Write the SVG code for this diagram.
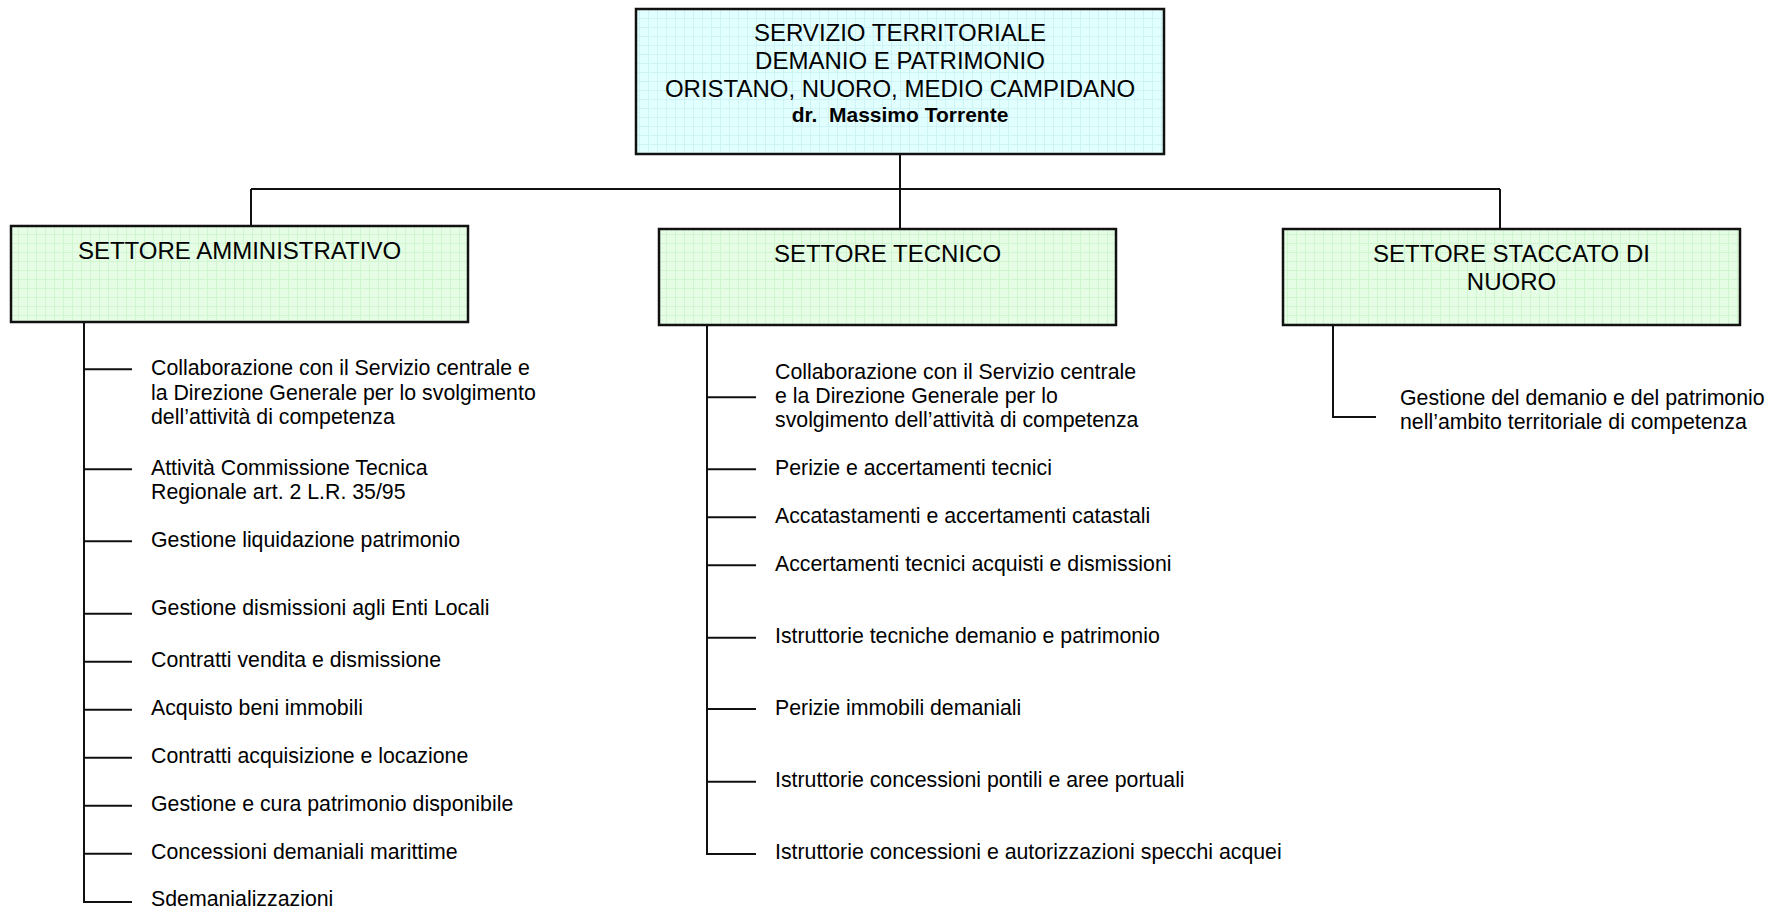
<svg xmlns="http://www.w3.org/2000/svg" width="1775" height="909" viewBox="0 0 1775 909">
<defs>
<pattern id="gridC" width="9" height="9" patternUnits="userSpaceOnUse"><rect width="9" height="9" fill="#E2FFFF"/><path d="M0 0.5H9M0.5 0V9" stroke="#CDF3F5" stroke-width="1" fill="none"/></pattern>
<pattern id="gridG" width="9" height="9" patternUnits="userSpaceOnUse"><rect width="9" height="9" fill="#E4FDE4"/><path d="M0 0.5H9M0.5 0V9" stroke="#D0F6D0" stroke-width="1" fill="none"/></pattern>
</defs>
<style>
.box{stroke:#111;stroke-width:2.5}
.top{fill:url(#gridC)}
.sec{fill:url(#gridG)}
.ttl{font-family:"Liberation Sans",Arial,sans-serif;font-size:24px;fill:#000;text-anchor:middle}
.bold{font-family:"Liberation Sans",Arial,sans-serif;font-size:21px;font-weight:bold;fill:#000;text-anchor:middle;white-space:pre}
.item{font-family:"Liberation Sans",Arial,sans-serif;font-size:21.3px;fill:#000}
.ln{stroke:#111;stroke-width:2;fill:none}
</style>
<rect width="1775" height="909" fill="#fff"/>
<g id="connectors">
<path class="ln" d="M900 154V229"/>
<path class="ln" d="M251 189H1500"/>
<path class="ln" d="M251 189V226"/>
<path class="ln" d="M1500 189V229"/>
<path class="ln" d="M84 322V902H132"/>
<path class="ln" d="M84 369.3H132M84 469.3H132M84 541.3H132M84 613.7H132M84 661.7H132M84 709.7H132M84 757.7H132M84 805.7H132M84 853.7H132"/>
<path class="ln" d="M707 325V854H756"/>
<path class="ln" d="M707 397.3H756M707 469.3H756M707 517.3H756M707 565.3H756M707 637.7H756M707 709H756M707 781.7H756"/>
<path class="ln" d="M1333 325V417H1376"/>
</g>
<g id="servizio">
<rect class="box top" x="636" y="9" width="528" height="145"/>
<text class="ttl" x="900" y="41">SERVIZIO TERRITORIALE</text>
<text class="ttl" x="900" y="69">DEMANIO E PATRIMONIO</text>
<text class="ttl" x="900" y="96.5">ORISTANO, NUORO, MEDIO CAMPIDANO</text>
<text class="bold" x="900" y="121.5" xml:space="preserve">dr.  Massimo Torrente</text>
</g>
<g id="settore-amministrativo">
<rect class="box sec" x="11" y="226" width="457" height="96"/>
<text class="ttl" x="239.5" y="259">SETTORE AMMINISTRATIVO</text>
</g>
<g id="settore-tecnico">
<rect class="box sec" x="659" y="229" width="457" height="96"/>
<text class="ttl" x="887.5" y="262">SETTORE TECNICO</text>
</g>
<g id="settore-nuoro">
<rect class="box sec" x="1283" y="229" width="457" height="96"/>
<text class="ttl" x="1511.5" y="262">SETTORE STACCATO DI</text>
<text class="ttl" x="1511.5" y="290">NUORO</text>
</g>
<g id="items-amministrativo">
<text class="item" x="151" y="375">Collaborazione con il Servizio centrale e</text>
<text class="item" x="151" y="400">la Direzione Generale per lo svolgimento</text>
<text class="item" x="151" y="424.3">dell’attività di competenza</text>
<text class="item" x="151" y="475">Attività Commissione Tecnica</text>
<text class="item" x="151" y="499">Regionale art. 2 L.R. 35/95</text>
<text class="item" x="151" y="546.7">Gestione liquidazione patrimonio</text>
<text class="item" x="151" y="615">Gestione dismissioni agli Enti Locali</text>
<text class="item" x="151" y="666.7">Contratti vendita e dismissione</text>
<text class="item" x="151" y="715">Acquisto beni immobili</text>
<text class="item" x="151" y="762.7">Contratti acquisizione e locazione</text>
<text class="item" x="151" y="810.7">Gestione e cura patrimonio disponibile</text>
<text class="item" x="151" y="858.7">Concessioni demaniali marittime</text>
<text class="item" x="151" y="906">Sdemanializzazioni</text>
</g>
<g id="items-tecnico">
<text class="item" x="775" y="379">Collaborazione con il Servizio centrale</text>
<text class="item" x="775" y="403.3">e la Direzione Generale per lo</text>
<text class="item" x="775" y="427.3">svolgimento dell’attività di competenza</text>
<text class="item" x="775" y="475">Perizie e accertamenti tecnici</text>
<text class="item" x="775" y="522.7">Accatastamenti e accertamenti catastali</text>
<text class="item" x="775" y="570.7">Accertamenti tecnici acquisti e dismissioni</text>
<text class="item" x="775" y="642.7">Istruttorie tecniche demanio e patrimonio</text>
<text class="item" x="775" y="715">Perizie immobili demaniali</text>
<text class="item" x="775" y="786.7">Istruttorie concessioni pontili e aree portuali</text>
<text class="item" x="775" y="859">Istruttorie concessioni e autorizzazioni specchi acquei</text>
</g>
<g id="items-nuoro">
<text class="item" x="1400" y="405">Gestione del demanio e del patrimonio</text>
<text class="item" x="1400" y="428.5">nell’ambito territoriale di competenza</text>
</g>
</svg>
